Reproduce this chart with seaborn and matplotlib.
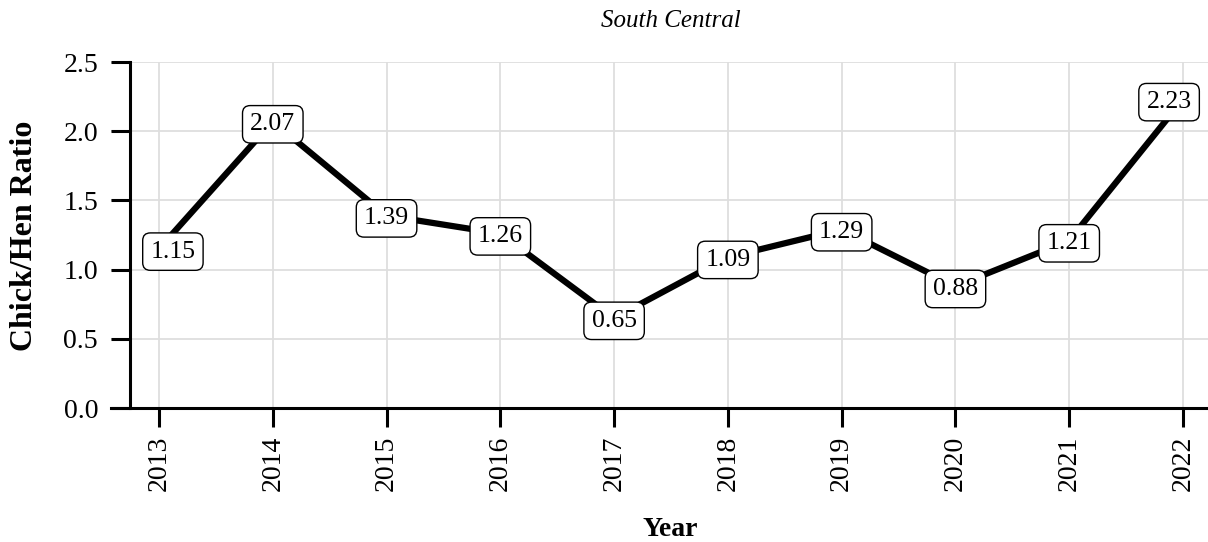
import matplotlib
matplotlib.use("Agg")
import matplotlib.pyplot as plt
import seaborn as sns
import pandas as pd

years = [2013, 2014, 2015, 2016, 2017, 2018, 2019, 2020, 2021, 2022]
ratios = [1.15, 2.07, 1.39, 1.26, 0.65, 1.09, 1.29, 0.88, 1.21, 2.23]
labels = ["1.15", "2.07", "1.39", "1.26", "0.65", "1.09", "1.29", "0.88", "1.21", "2.23"]
y_ticks = [0.0, 0.5, 1.0, 1.5, 2.0, 2.5]
region = "South Central"

df = pd.DataFrame({"Year": years, "Ratio": ratios})

sns.set_theme(style="whitegrid")
plt.rcParams["font.family"] = ["Liberation Serif", "DejaVu Serif"]
plt.rcParams["text.color"] = "black"

fig = plt.figure(figsize=(12.08, 5.42), dpi=100)
ax = fig.add_axes([111 / 1208, 134 / 542, 1 - 111 / 1208, 346 / 542])

sns.lineplot(data=df, x="Year", y="Ratio", ax=ax, color="black", linewidth=4.5,
             solid_capstyle="butt", zorder=3)

ax.set_xlim(2012.578, 2022.22)
ax.set_ylim(0, 2.5)
ax.set_xticks(years)
ax.set_xticklabels([str(y) for y in years], rotation=90)
ax.set_yticks(y_ticks)
ax.set_yticklabels([f"{t:.1f}" for t in y_ticks])

ax.grid(True, color="#dedede", linewidth=1.3)
ax.set_axisbelow(True)
for side in ["top", "right"]:
    ax.spines[side].set_visible(False)
ax.spines["left"].set_position(("data", 2012.745))
for side in ["left", "bottom"]:
    ax.spines[side].set_color("black")
    ax.spines[side].set_linewidth(2.2)

ax.tick_params(axis="both", which="major", bottom=True, left=True, length=14,
               width=2.2, color="black", labelsize=20, labelcolor="black")
ax.tick_params(axis="y", pad=9)
ax.tick_params(axis="x", pad=6)

ax.set_xlabel("")
ax.set_ylabel("")

# value labels in rounded boxes; the end labels are nudged inward
for i, (yr, val, txt) in enumerate(zip(years, ratios, labels)):
    dx = 0
    if i == 0:
        dx = 10
    elif i == len(years) - 1:
        dx = -10
    ax.annotate(txt, xy=(yr, val), xytext=(dx, -2), textcoords="offset points",
                ha="center", va="center", fontsize=18.5, color="black", zorder=5,
                annotation_clip=False,
                bbox=dict(boxstyle="round,pad=0.3,rounding_size=0.3",
                          facecolor="white", edgecolor="black", linewidth=1.0))

fig.text(671 / 1208, 1 - 21 / 542, region, ha="center", va="center",
         fontsize=18, style="italic", color="black")
fig.text(670 / 1208, 1 - 529 / 542, "Year", ha="center", va="center",
         fontsize=20, fontweight="bold", color="black")
fig.text(25 / 1208, 1 - 236 / 542, "Chick/Hen Ratio", ha="center", va="center",
         rotation=90, fontsize=23, fontweight="bold", color="black")

fig.savefig("out.png", dpi=100)
